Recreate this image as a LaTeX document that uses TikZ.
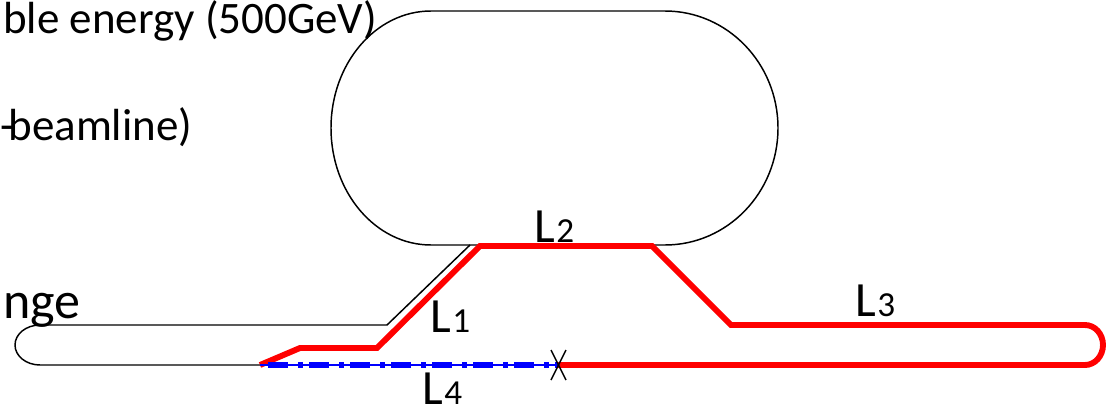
\documentclass[tikz,border=0pt]{standalone}
\usepackage{fontspec}
\setmainfont{Carlito}
\usepackage{xcolor}
\usetikzlibrary{positioning, calc}
\definecolor{cBeam}{RGB}{255,0,0}
\definecolor{cDump}{RGB}{0,0,255}
\tikzset{
	ring/.style    ={draw=black, line width=1.05pt},
	beam/.style    ={draw=cBeam, line width=4.2pt, line join=miter},
	dumpcore/.style={draw=cDump, line width=1.8pt},
	dumpdash/.style={draw=cDump, line width=4.8pt, dash pattern=on 14.2pt off 7.1pt on 3.6pt off 4.3pt},
	cutmark/.style ={draw=black, line width=1.1pt},
	title/.style   ={font=\fontsize{32}{38}\selectfont, inner sep=0pt, anchor=base west},
	seclabel/.style={font=\fontsize{35}{40}\selectfont, inner sep=0pt, anchor=base west},
}
\newcommand{\seclab}[1]{L{\fontsize{25}{30}\selectfont\kern1pt #1}}
\begin{document}
\begin{tikzpicture}[x=0.025cm, y=0.025cm]
	\useasboundingbox (0,0) rectangle (1106,410);
	% ---------------- cut-off texts ----------------
	\node[title] (energytext) at (3,376) {ble energy (500GeV)};
	\node[title] (linetext) at (0,270) {-\kern-4pt beamline)};
	\node[title, font=\fontsize{37}{42}\selectfont] (rangetext) at (3,92) {nge};
	% ---------------- main ring ----------------
	\draw[ring] (426,399) -- (665,399) arc[start angle=90, end angle=-90, x radius=113, y radius=117]
		-- (431,165) arc[start angle=270, end angle=90, x radius=100, y radius=117] -- cycle;
	% ---------------- lower black line ----------------
	\coordinate (ringjoin) at (470,165);
	\coordinate (kneetop) at (387,85);
	\coordinate (looptop) at (40,85);
	\coordinate (splitpt) at (262,45);
	\draw[ring] (ringjoin) -- (kneetop) -- (looptop) arc[start angle=90, end angle=270, x radius=25, y radius=20] -- (splitpt);
	% ---------------- red beam line ----------------
	\coordinate (redstart) at (260,45);
	\coordinate (redlow) at (300,62);
	\coordinate (redknee) at (377,62);
	\coordinate (redtopl) at (480,164);
	\coordinate (redtopr) at (652,164);
	\coordinate (redkneer) at (731,85);
	\coordinate (redloop) at (1085,85);
	\coordinate (crossing) at (558,45);
	\draw[beam] (redstart) -- (redlow) -- (redknee) -- (redtopl) -- (redtopr) -- (redkneer) -- (redloop)
		arc[start angle=90, end angle=-90, x radius=18, y radius=20] -- (crossing);
	% ---------------- blue bypass ----------------
	\draw[dumpcore] (redstart) -- (crossing);
	\draw[dumpdash] (268,45) -- (crossing);
	% ---------------- cross mark ----------------
	\draw[cutmark] (551,60) -- (566,30);
	\draw[cutmark] (566,60) -- (551,30);
	% ---------------- section labels ----------------
	\node[seclabel] (labela) at (430,78) {\seclab{1}};
	\node[seclabel] (labelb) at (534,168) {\seclab{2}};
	\node[seclabel] (labelc) at (855,94) {\seclab{3}};
	\node[seclabel] (labeld) at (422,6) {\seclab{4}};
\end{tikzpicture}
\end{document}
